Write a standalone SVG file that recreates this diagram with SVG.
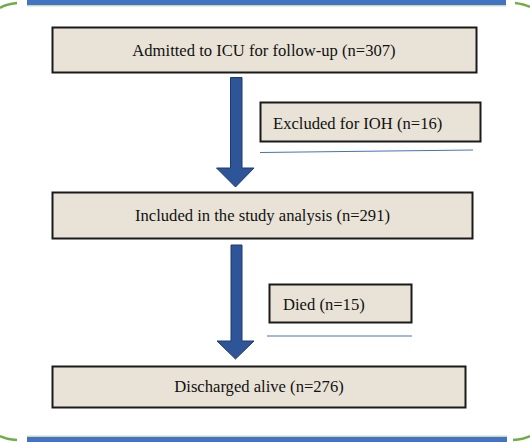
<svg xmlns="http://www.w3.org/2000/svg" width="530" height="442" viewBox="0 0 530 442">
<style>
.box{fill:#E9E3D7;stroke:#1a1a1a;stroke-width:2}
.t{font-family:"Liberation Serif","Times New Roman",serif;font-size:16.6px;fill:#111}
.c{text-anchor:middle}
.arrow{fill:#2E5597;stroke:#1F3A6E;stroke-width:1}
.ul{stroke:#4472C4;stroke-width:1.2;fill:none}
.bar{fill:#4472C4}
.g{stroke:#70AD47;stroke-width:2.5;fill:none}
</style>
<rect width="530" height="442" fill="#ffffff"/>
<g id="frame">
<rect class="bar" x="27" y="0" width="479" height="5"/>
<line x1="27" y1="5.8" x2="506" y2="5.8" stroke="#70AD47" stroke-width="1" opacity="0.6"/>
<rect class="bar" x="27" y="437" width="480" height="5"/>
<line x1="27" y1="436.2" x2="507" y2="436.2" stroke="#70AD47" stroke-width="1" opacity="0.6"/>
<path class="g" d="M0,8 Q6,4 17,3"/>
<path class="g" d="M515,3 Q524,4 530,7"/>
<path class="g" d="M0,436 Q6,439 17,440"/>
<path class="g" d="M513,440 Q524,439 530,436"/>
</g>
<g id="connectors">
<path class="arrow" d="M230.5,77.5 H242 V168 H254 L235.5,187 L216.5,168 H230.5 Z"/>
<path class="arrow" d="M231,245 H242 V341 H254 L235.5,359 L217,341 H231 Z"/>
</g>
<g id="underlines">
<line class="ul" x1="260" y1="152.5" x2="473" y2="150"/>
<line class="ul" x1="267" y1="336" x2="412" y2="336"/>
</g>
<g id="admitted">
<rect class="box" x="52.5" y="27.5" width="424" height="45"/>
<text class="t c" x="264" y="55.5">Admitted to ICU for follow-up (n=307)</text>
</g>
<g id="excluded">
<rect class="box" x="260.5" y="102.5" width="220" height="39"/>
<text class="t" x="273" y="128.5">Excluded for IOH (n=16)</text>
</g>
<g id="included">
<rect class="box" x="52.5" y="192.5" width="420" height="46"/>
<text class="t c" x="262.5" y="220.5">Included in the study analysis (n=291)</text>
</g>
<g id="died">
<rect class="box" x="269.5" y="284.5" width="142" height="38"/>
<text class="t" x="283" y="309.5">Died (n=15)</text>
</g>
<g id="discharged">
<rect class="box" x="52.5" y="366.5" width="413" height="41"/>
<text class="t c" x="259" y="392">Discharged alive (n=276)</text>
</g>
</svg>
